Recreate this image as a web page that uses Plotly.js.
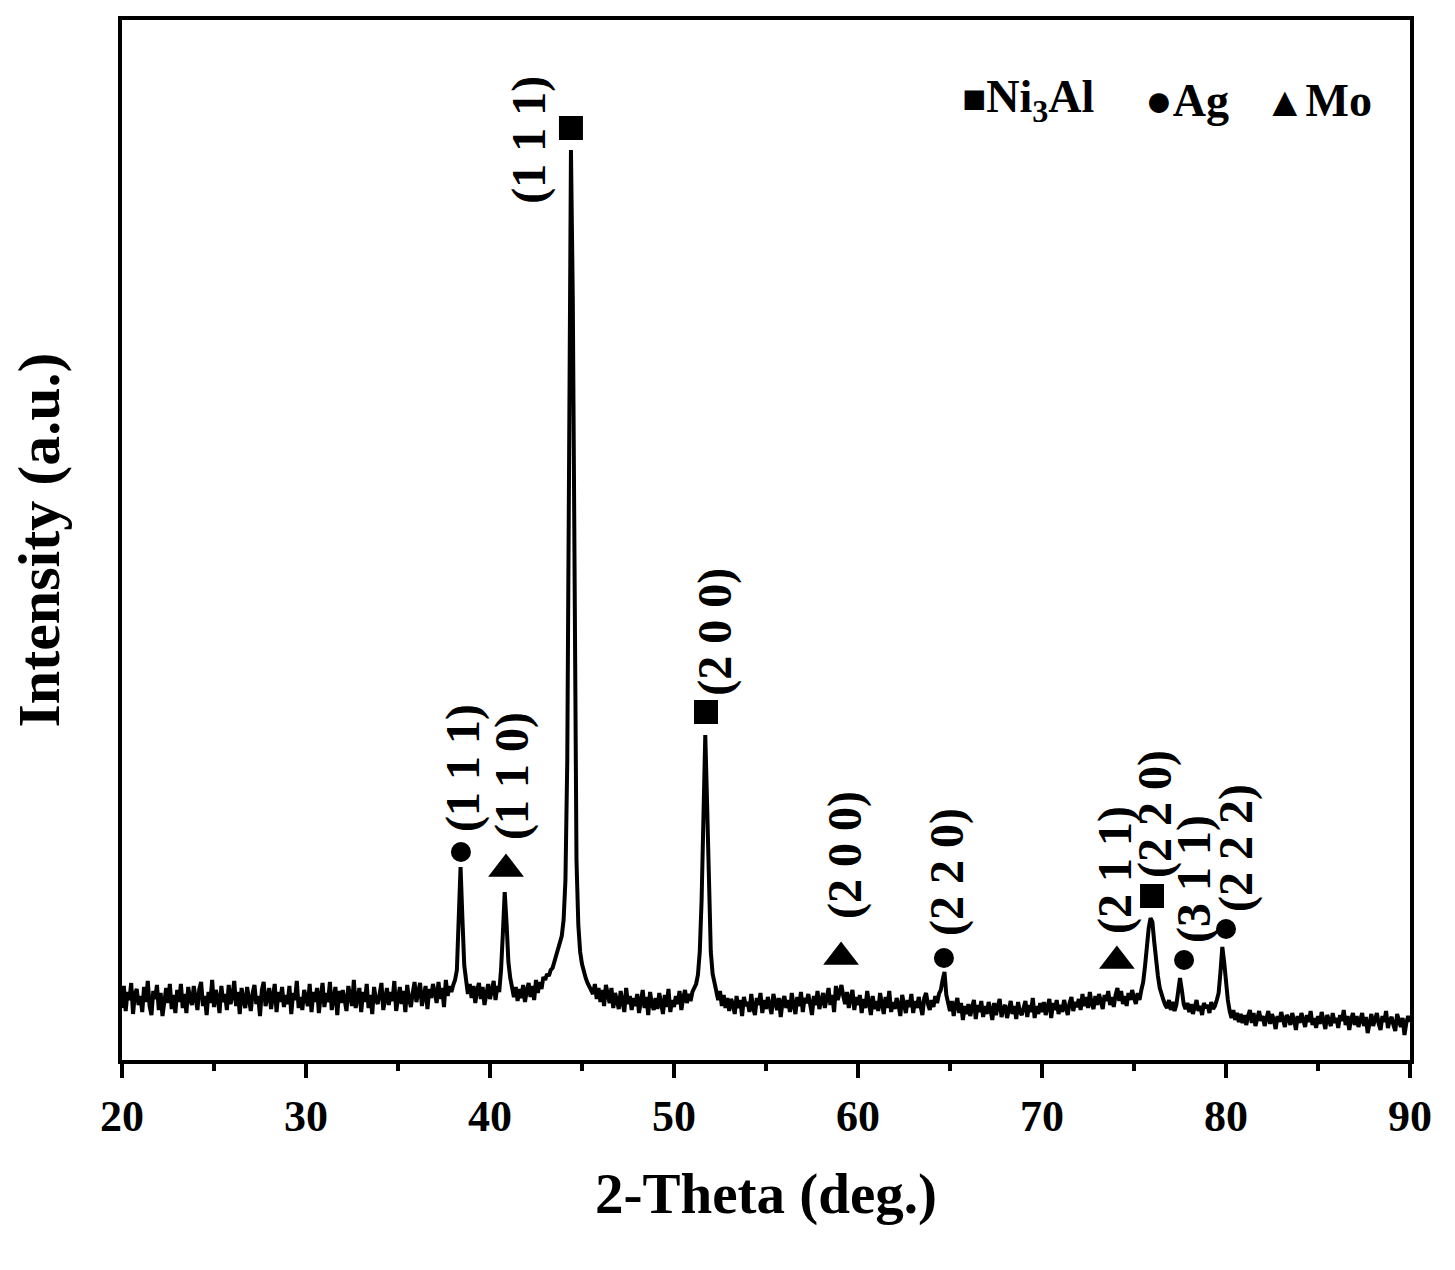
<!DOCTYPE html>
<html>
<head>
<meta charset="utf-8">
<script src="https://cdn.plot.ly/plotly-3.0.1.min.js"></script>
<style>html,body{margin:0;padding:0;background:#fff;}#chart{width:1455px;height:1270px;}</style>
</head>
<body>
<div id="chart"></div>
<script>
// 2-theta sampling grid: 20.0 .. 90.0 deg, 0.1 deg steps
const twoThetaStart = 20.0;
const twoThetaStep = 0.1;

// Intensity (a.u.), one row per degree (20.x ... 89.x), last value at 90.0
const intensity = [
  52,74,49,68,60,77,46,66,71,55,
  64,48,73,58,79,54,45,69,61,75,
  50,67,44,60,72,57,76,51,65,47,
  70,58,76,52,66,47,73,61,55,74,
  60,50,71,78,54,64,45,68,57,80,
  53,70,62,47,74,58,66,50,75,56,
  64,79,54,68,46,72,60,52,73,61,
  49,67,75,56,64,44,70,78,54,62,
  72,51,63,76,48,68,58,73,53,65,
  56,74,46,67,60,79,52,63,50,70,
  62,54,76,48,68,58,72,47,64,77,
  53,67,58,78,50,63,73,45,69,57,
  70,60,49,74,64,54,80,52,62,72,
  48,68,58,76,52,65,46,73,60,56,
  66,77,50,63,72,55,68,59,79,49,
  63,73,56,69,48,75,61,53,67,78,
  58,69,77,54,65,74,51,71,62,76,
  67,57,78,61,72,53,80,64,74,68,
  75,80,90,132,193,142,95,80,66,76,
  62,74,57,70,77,61,73,55,69,76,
  61,72,79,60,74,68,90,127,168,137,
  98,82,74,63,73,59,71,62,75,58,
  69,77,63,74,60,80,67,78,71,83,
  80,86,84,90,92,98,104,110,116,124,
  140,180,300,600,910,760,380,200,135,108,
  96,88,82,77,73,70,66,76,61,72,
  58,70,54,75,63,57,72,52,67,60,
  51,69,58,48,72,56,64,50,62,54,
  66,47,59,70,52,63,45,68,56,50,
  62,51,67,55,46,65,53,71,48,60,
  53,64,56,69,50,62,70,57,66,59,
  68,72,76,85,108,160,255,325,255,160,
  108,86,76,68,60,69,54,65,52,62,
  49,61,56,46,64,52,60,44,63,54,
  58,48,66,52,45,62,55,67,47,60,
  51,63,54,46,66,57,50,62,43,58,
  64,52,60,48,67,55,46,63,54,68,
  48,62,57,66,52,45,64,55,69,51,
  59,67,52,62,72,55,65,48,74,60,
  70,75,64,56,68,52,62,70,50,63,
  55,65,47,61,52,69,57,45,64,51,
  59,49,67,55,46,63,52,69,48,58,
  51,62,55,44,65,56,47,60,53,66,
  47,59,52,63,55,45,62,67,56,50,
  60,53,64,57,66,70,80,88,65,55,
  49,59,44,55,62,47,57,40,54,46,
  56,44,51,60,41,55,48,59,43,54,
  46,58,50,40,57,45,54,61,43,52,
  55,42,50,59,46,54,41,58,48,45,
  52,59,43,55,48,62,42,54,46,57,
  48,58,45,54,61,42,57,50,60,46,
  55,48,60,52,45,57,63,49,58,53,
  61,50,66,54,63,52,68,56,51,64,
  55,66,58,51,65,59,69,55,63,53,
  65,72,59,69,56,64,54,67,60,70,
  62,56,67,60,70,78,94,114,132,142,
  138,118,98,84,72,64,60,55,52,60,
  50,58,49,55,66,82,70,56,51,57,
  48,56,46,55,60,49,54,45,57,52,
  55,47,58,51,54,60,67,88,113,98,
  76,60,49,42,50,40,47,38,46,37,
  45,35,44,50,37,47,34,43,49,39,
  44,34,41,49,36,46,40,31,44,38,
  48,38,33,45,42,35,47,40,30,44,
  37,47,40,33,45,38,49,35,42,32,
  44,36,48,40,31,45,39,34,47,37,
  42,32,45,39,50,35,44,30,41,47,
  35,44,33,41,47,34,43,27,40,46,
  34,42,47,36,30,44,38,49,32,40,
  43,35,29,46,38,33,42,25,37,44,
  38
];

// Phase markers (peak positions and marker heights)
const ni3alX = [44.40, 51.74, 75.98];
const ni3alY = [932, 348, 164];
const agX = [38.42, 64.67, 77.72, 80.00];
const agY = [208, 102, 100, 131];
const moX = [40.87, 59.08, 74.07];
const moY = [191, 103, 99];

// Miller index labels
const hklText = ['(1 1 1)', '(1 1 1)', '(1 1 0)', '(2 0 0)', '(2 0 0)', '(2 2 0)', '(2 1 1)', '(2 2 0)', '(3 1 1)', '(2 2 2)'];
const hklX    = [42.10, 38.53, 41.20, 52.22, 59.29, 64.84, 73.97, 76.14, 78.26, 80.54];
const hklY    = [920, 292, 284, 428, 205, 188, 190, 246, 181, 212];

const xTicks = [20, 30, 40, 50, 60, 70, 80, 90];

const twoTheta = intensity.map((_, i) => +(twoThetaStart + i * twoThetaStep).toFixed(2));

const FONT = 'Liberation Serif, Times New Roman, serif';

const traces = [
  {x: twoTheta, y: intensity, type: 'scatter', mode: 'lines',
   line: {color: '#000', width: 4}, hoverinfo: 'skip', showlegend: false},
  {x: ni3alX, y: ni3alY, type: 'scatter', mode: 'markers',
   marker: {symbol: 'square', size: 24, color: '#000'}, showlegend: false},
  {x: agX, y: agY, type: 'scatter', mode: 'markers',
   marker: {symbol: 'circle', size: 20, color: '#000'}, showlegend: false},
  {x: moX, y: moY, type: 'scatter', mode: 'markers',
   marker: {symbol: 'triangle-up', size: 31, color: '#000'}, showlegend: false}
];

const annotations = hklText.map((t, i) => ({
  x: hklX[i], y: hklY[i], xref: 'x', yref: 'y', text: t, showarrow: false,
  textangle: -90, xanchor: 'center', yanchor: 'middle',
  font: {family: FONT, size: 48, color: '#000', weight: 'bold'}
}));

const legendItems = [
  {text: '<span style="font-size:40px">■</span>Ni<sub>3</sub>Al', px: 960},
  {text: '<span style="font-size:46px">●</span>Ag', px: 1143},
  {text: '<span style="font-size:42px">▲</span>Mo', px: 1262}
];
legendItems.forEach(it => annotations.push({
  x: (it.px - 122) / 1288, y: 0.923, xref: 'paper', yref: 'paper',
  text: it.text, showarrow: false, xanchor: 'left', yanchor: 'middle',
  font: {family: FONT, size: 46, color: '#000', weight: 'bold'}
}));

const layout = {
  width: 1455, height: 1270,
  margin: {l: 122, r: 45, t: 20, b: 210},
  paper_bgcolor: '#fff', plot_bgcolor: '#fff',
  showlegend: false,
  xaxis: {
    range: [20, 90], tickvals: xTicks, ticktext: xTicks.map(String),
    ticks: 'outside', ticklen: 14, tickwidth: 4, tickcolor: '#000',
    minor: {dtick: 5, tick0: 20, ticks: 'outside', ticklen: 7, tickwidth: 4, tickcolor: '#000'},
    showline: true, linewidth: 4, linecolor: '#000', mirror: true,
    showgrid: false, zeroline: false,
    tickfont: {family: FONT, size: 44, color: '#000', weight: 'bold'},
    title: {text: '2-Theta (deg.)', standoff: 34,
            font: {family: FONT, size: 57, color: '#000', weight: 'bold'}}
  },
  yaxis: {
    range: [0, 1040], showticklabels: false, ticks: '',
    showline: true, linewidth: 4, linecolor: '#000', mirror: true,
    showgrid: false, zeroline: false,
    title: {text: 'Intensity (a.u.)', standoff: 40,
            font: {family: FONT, size: 60, color: '#000', weight: 'bold'}}
  },
  annotations: annotations
};

Plotly.newPlot('chart', traces, layout, {staticPlot: true, displayModeBar: false});
</script>
</body>
</html>
